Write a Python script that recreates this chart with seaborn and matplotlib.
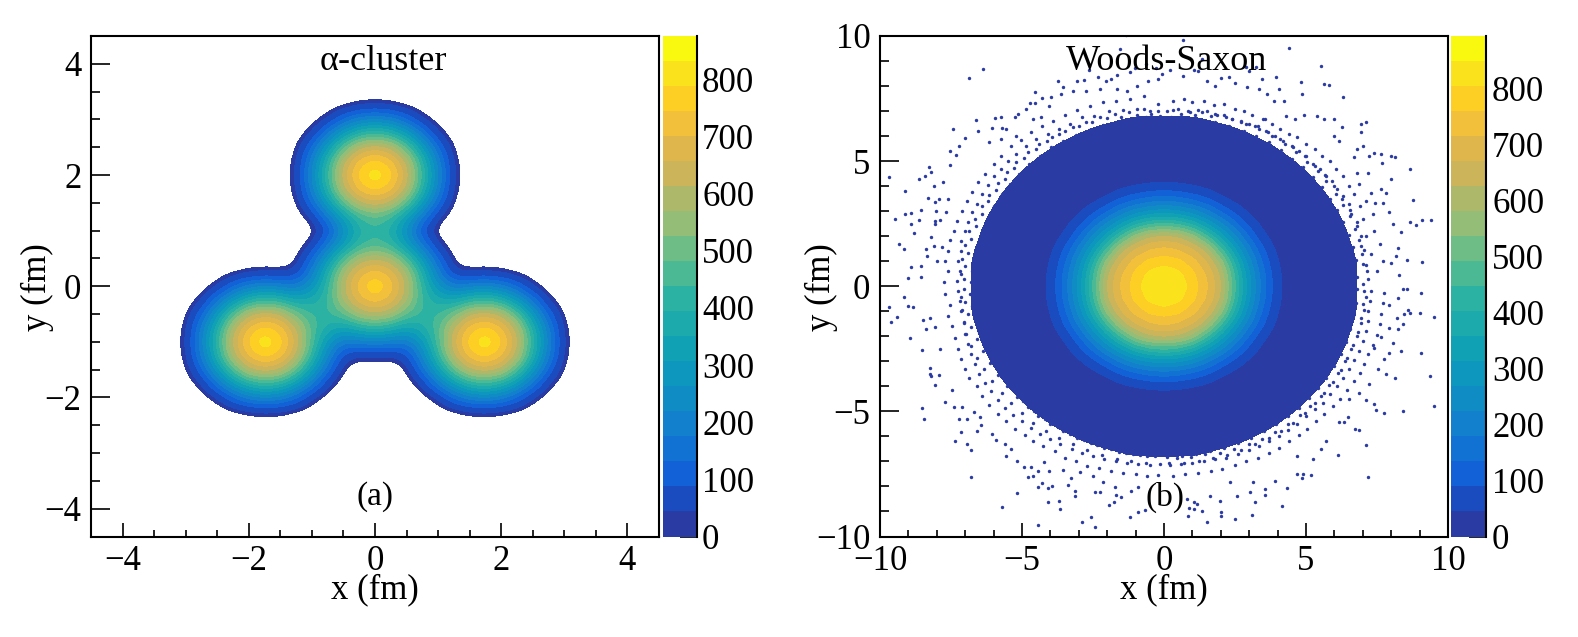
import numpy as np
import pandas as pd
import matplotlib
matplotlib.use("Agg")
import matplotlib.pyplot as plt
from matplotlib.cm import ScalarMappable
from matplotlib.colors import BoundaryNorm, ListedColormap
import seaborn as sns
from seaborn._statistics import KDE

# Colour bands of the palette, bottom to top of the colour bar
BAND_COLORS = ["#2A3BA3", "#1A4CC0", "#1361D6", "#1272D4", "#1280CC",
               "#0F8CC4", "#0D97BE", "#10A2B4", "#1DAAAC", "#2BB2A2",
               "#4CB995", "#6EBD87", "#94BE78", "#ADB86A", "#CBB45A",
               "#DEB64C", "#F2C03A", "#FDCF24", "#FAE31C", "#F8F90F"]
CBAR_TICKS = [0, 100, 200, 300, 400, 500, 600, 700, 800]
ALPHA_ZMAX = 876
WS_ZMAX = 893

# alpha-cluster panel: counts read at 0.25 fm steps, x >= 0 side (the picture is mirror symmetric)
ALPHA_STEP = 0.25
ALPHA_X = [0, .25, .5, .75, 1, 1.25, 1.5, 1.75, 2, 2.25, 2.5, 2.75, 3, 3.25]
ALPHA_Y = [3.5, 3.25, 3, 2.75, 2.5, 2.25, 2, 1.75, 1.5, 1.25, 1, .75, .5, .25, 0,
           -.25, -.5, -.75, -1, -1.25, -1.5, -1.75, -2, -2.25, -2.5]
ALPHA_COUNTS = [
    [0, 0, 0, 0, 0, 0, 0, 0, 0, 0, 0, 0, 0, 0],
    [30, 22, 4, 0, 0, 0, 0, 0, 0, 0, 0, 0, 0, 0],
    [220, 196, 126, 26, 0, 0, 0, 0, 0, 0, 0, 0, 0, 0],
    [440, 400, 300, 172, 26, 0, 0, 0, 0, 0, 0, 0, 0, 0],
    [650, 620, 483, 300, 126, 4, 0, 0, 0, 0, 0, 0, 0, 0],
    [770, 723, 620, 400, 196, 18, 0, 0, 0, 0, 0, 0, 0, 0],
    [860, 770, 650, 440, 220, 26, 0, 0, 0, 0, 0, 0, 0, 0],
    [770, 723, 620, 400, 196, 18, 0, 0, 0, 0, 0, 0, 0, 0],
    [650, 620, 483, 300, 126, 4, 0, 0, 0, 0, 0, 0, 0, 0],
    [480, 432, 310, 172, 26, 0, 0, 0, 0, 0, 0, 0, 0, 0],
    [429, 382, 246, 60, 0, 0, 0, 0, 0, 0, 0, 0, 0, 0],
    [460, 414, 296, 163, 26, 0, 0, 0, 0, 0, 0, 0, 0, 0],
    [618, 589, 459, 285, 120, 4, 0, 0, 0, 0, 0, 0, 0, 0],
    [732, 687, 589, 380, 186, 30, 20, 26, 18, 3, 0, 0, 0, 0],
    [820, 732, 618, 418, 255, 173, 200, 220, 190, 118, 22, 0, 0, 0],
    [732, 687, 589, 428, 368, 342, 405, 440, 392, 290, 160, 20, 0, 0],
    [618, 589, 474, 425, 432, 505, 625, 650, 616, 470, 285, 110, 2, 0],
    [418, 380, 325, 375, 460, 620, 730, 770, 715, 610, 381, 180, 14, 0],
    [209, 186, 166, 276, 460, 660, 778, 860, 762, 640, 420, 204, 20, 0],
    [30, 22, 50, 212, 420, 620, 730, 770, 715, 610, 381, 180, 14, 0],
    [0, 0, 6, 140, 312, 495, 625, 650, 616, 470, 285, 110, 2, 0],
    [0, 0, 0, 30, 182, 310, 405, 440, 392, 290, 160, 20, 0, 0],
    [0, 0, 0, 0, 26, 133, 200, 220, 190, 118, 22, 0, 0, 0],
    [0, 0, 0, 0, 0, 4, 20, 26, 18, 3, 0, 0, 0, 0],
    [0, 0, 0, 0, 0, 0, 0, 0, 0, 0, 0, 0, 0, 0],
]

# Woods-Saxon panel: counts read at 0.5 fm steps, one quadrant (x >= 0, y >= 0)
WS_STEP = 0.5
WS_X = [0, .5, 1, 1.5, 2, 2.5, 3, 3.5, 4, 4.5, 5, 5.5, 6, 6.5, 7, 7.5]
WS_Y = [0, .5, 1, 1.5, 2, 2.5, 3, 3.5, 4, 4.5, 5, 5.5, 6, 6.5, 7, 7.5]
WS_COUNTS = [
    [860, 840, 790, 725, 650, 450, 280, 150, 50, 18, 10, 6, 4, 2, .5, 0],
    [840, 820, 775, 712, 633, 433, 270, 142, 46, 18, 10, 6, 4, 2, .5, 0],
    [790, 775, 735, 680, 575, 385, 238, 116, 38, 16, 9, 6, 4, 2, .4, 0],
    [725, 712, 680, 617, 450, 306, 189, 88, 28, 14, 8, 5, 3, 1.5, .3, 0],
    [650, 633, 575, 450, 335, 228, 122, 46, 19, 11, 7, 5, 3, 1, 0, 0],
    [450, 433, 385, 306, 228, 142, 70, 26, 14, 9, 6, 4, 2, .6, 0, 0],
    [280, 270, 238, 189, 122, 70, 30, 16, 10, 7, 5, 3, 1.3, .3, 0, 0],
    [150, 142, 116, 88, 46, 26, 16, 11, 8, 5, 3.6, 2, .6, 0, 0, 0],
    [50, 46, 38, 28, 19, 14, 10, 8, 5, 4, 2.4, 1, .2, 0, 0, 0],
    [18, 18, 16, 14, 11, 9, 7, 5, 4, 2.6, 1.2, .3, 0, 0, 0, 0],
    [10, 10, 9, 8, 7, 6, 5, 3.6, 2.4, 1.2, .4, 0, 0, 0, 0, 0],
    [6, 6, 6, 5, 5, 4, 3, 2, 1, .3, 0, 0, 0, 0, 0, 0],
    [4, 4, 4, 3, 3, 2, 1.3, .6, .2, 0, 0, 0, 0, 0, 0, 0],
    [2, 2, 2, 1.5, 1, .6, .3, 0, 0, 0, 0, 0, 0, 0, 0, 0],
    [.5, .5, .4, .3, 0, 0, 0, 0, 0, 0, 0, 0, 0, 0, 0, 0],
    [0, 0, 0, 0, 0, 0, 0, 0, 0, 0, 0, 0, 0, 0, 0, 0],
]

# Single stray events outside the solid disc of the Woods-Saxon panel
STRAY_POINTS = [
    (-6.12, 8.59), (-6.6, 8.22), (-7.19, 6.18), (-6.38, 6.56), (-9.42, 4.25), (-8.88, 3.69), (-9.21, 2.57),
    (-9.07, 1.57), (-8.9, 1.37), (-8.77, .23), (-8.37, 4.2), (-8.03, 4.67), (-8.15, 4.3), (-7.97, 4.45),
    (-7.27, 5.29), (-7.09, 5.14), (-6.97, 5.52), (-6.76, 5.82), (-7.3, 4.74), (-7.54, 4.07), (-7.86, 3.9),
    (-8.05, 3.44), (-7.83, 3.27), (-7.68, 3.4), (-7.35, 3.4), (-8.3, 2.94), (-8.65, 2.82), (-8.86, 2.77),
    (-8.66, 2.4), (-8.37, 2.53), (-8.56, 2.04), (-7.77, 2.89), (-7.41, 2.88), (-7.8, 2.5), (-7.62, 2.54),
    (-7.8, 2.37), (-7.97, 1.86), (-8.13, 1.37), (-8.66, .66), (-8.29, .72), (-8.09, 1.09), (-7.85, 1.5),
    (-7.55, 1.47), (-7.74, .9), (-8.29, .27), (-5.7, 6.61), (-5.5, 6.65), (-5.0, 6.65), (-4.9, 6.79),
    (-4.6, 7.0), (-4.28, 7.66), (-4.47, 7.23), (-4.3, 7.23), (-4.05, 7.42), (-3.73, 7.46), (-3.5, 8.09),
    (-3.3, 7.86), (-2.8, 8.1), (-2.55, 8.13), (-2.38, 8.56), (-2.08, 8.26), (-1.8, 8.09), (-1.6, 8.2),
    (-1.4, 8.33), (-.96, 8.46), (-.78, 8.62), (-1.3, 9.4), (-1.08, 9.93), (-.4, 8.8), (-.03, 8.62),
    (-.3, 8.09), (-.7, 7.9), (-1.07, 7.72), (-1.42, 7.79), (-2, 7.79), (-2.5, 7.72), (-2.96, 7.72),
    (-3.37, 7.6), (-3.79, 7.12), (-4.08, 6.65), (-4.38, 6.59), (-4.97, 5.92), (-5.32, 6.18), (-5.44, 6.24),
    (-5.8, 6.24), (-6.29, 6.12), (-5.9, 5.65), (-5.5, 5.78),
    (.91, 9.76), (4.66, 9.44), (5.77, 8.69), (5.89, 7.99), (6.06, 7.95), (6.57, 7.46), (5.06, 8.06),
    (5.12, 7.59), (4.21, 8.26), (3.7, 8.19), (3.15, 8.66), (3.48, 8.66), (3.26, 8.49), (2.53, 8.26),
    (2.27, 8.23), (1.58, 9.0), (1.29, 8.53), (1.43, 8.49), (.93, 8.29), (.46, 8.53), (.17, 8.39),
    (.05, 8.19), (1.76, 8.12), (2.05, 7.92), (2.76, 8.03), (3.17, 7.86), (3.59, 7.79), (3.88, 7.59),
    (4.29, 7.79), (4.47, 7.32), (4.12, 7.32), (3.82, 6.59), (4.53, 6.72), (4.88, 6.59), (5.18, 6.75),
    (5.65, 6.72), (5.89, 6.59), (6.24, 6.59), (6.5, 6.28), (7.18, 6.38), (7.38, 6.45), (7.18, 6.05),
    (7.24, 5.51), (7.06, 5.4), (6.42, 5.71), (6.24, 5.92), (7.66, 5.22), (7.89, 5.18), (8.25, 5.11),
    (8.37, 5.07), (7.92, 4.82), (8.92, 4.6), (8.25, 4.2), (7.42, 4.44), (7.06, 4.44), (7.48, 5.11),
    (6.95, 5.05), (9.0, 3.33), (8.92, 2.46), (9.11, 2.33), (9.35, 2.53), (9.64, 2.53), (8.3, 2.4),
    (8.6, 2.06), (8.5, 1.43), (8.81, .96), (9.35, .86), (8.19, 2.86), (7.95, 3.24), (8.07, 3.64),
    (7.9, 3.77), (7.68, 3.24), (7.54, 3.64), (8.42, 1.1), (8.54, .36), (8.25, .83),
    (-8.92, -.51), (-9.43, -.91), (-8.78, -.88), (-8.6, -.91), (-9.15, -1.31), (-9.37, -1.51), (-8.68, -2.18),
    (-8.25, -1.45), (-8.13, -1.81), (-7.8, -1.71), (-7.98, -1.38), (-8.27, -2.65), (-7.62, -2.61), (-7.98, -3.36),
    (-8, -3.59), (-7.94, -3.69), (-7.66, -3.65), (-7.83, -4.06), (-7.47, -4.73), (-8.27, -4.97), (-8.21, -5.4),
    (-7.21, -4.26), (-7.15, -4.93), (-6.86, -4.93), (-6.97, -5.4), (-6.67, -5.4), (-6.44, -5.13), (-6.23, -5.33),
    (-6.2, -5.64), (-6.32, -5.89), (-6.9, -5.93), (-7.12, -6.3), (-6.67, -6.41), (-6.56, -6.65), (-6.53, -7.72),
    (-5.8, -6.0), (-5.68, -6.23), (-5.35, -6.41), (-5.33, -6.87), (-4.91, -7.07), (-5.12, -6.6), (-4.92, -8.38),
    (-5.44, -8.94), (-4.67, -7.31), (-4.44, -7.34), (-4.55, -7.71), (-4.38, -7.67), (-4.2, -7.47), (-3.97, -7.14),
    (-3.79, -7.47), (-4.18, -8.11), (-4.03, -7.98), (-3.85, -8.17), (-3.7, -8.07), (-3.82, -8.74), (-3.46, -8.67),
    (-3.41, -9.01), (-4.2, -9.64), (-3.14, -8.05), (-3.32, -7.43), (-3.02, -7.78), (-2.9, -8.5), (-2.9, -8.27),
    (-2.64, -9.54), (-2.31, -9.32), (-2.17, -9.74), (-2.17, -8.34), (-2.0, -8.31), (-1.7, -8.84), (-1.51, -8.74),
    (-1.43, -8.45), (-1.25, -8.54), (-.9, -8.27), (-.66, -8.14), (-.93, -9.34), (-.66, -9.14), (-.43, -9.04),
    (-1.9, -7.94), (-1.48, -8.14), (-2.25, -7.67), (-2.72, -7.54),
    (1.78, -9.52), (1.11, -9.3), (2.25, -9.14), (2.25, -9.28), (2.74, -9.41), (3.35, -9.25), (1.58, -9.08),
    (1.14, -8.98), (1.31, -9.01), (1.4, -8.81), (1.29, -8.71), (1.07, -8.6), (1.88, -8.47), (2.21, -8.67),
    (2.82, -8.5), (3.45, -8.74), (4.39, -8.88), (3.82, -8.2), (3.82, -8.43), (4.59, -8.18), (3.29, -8.31),
    (7.42, -7.71), (4.94, -7.6), (5.15, -7.6), (5.12, -7.78), (5.42, -7.64), (4.15, -7.87), (3.39, -7.94),
    (2.58, -7.94), (5.5, -7.0), (6.36, -6.84), (7.36, -6.44), (7.13, -5.86), (6.97, -5.82), (4.94, -6.87),
    (5.77, -6.6), (5.95, -6.27), (6.74, -5.33), (6.6, -5.53), (8.01, -5.17), (8.66, -5.1), (9.76, -4.9),
    (9.62, -3.69), (8.4, -3.76), (8.07, -3.62), (7.72, -5.06), (7.36, -4.66), (7.66, -4.79), (9.29, -2.76),
    (8.58, -2.69), (8.19, -2.76), (8.01, -3.01), (7.78, -3.41), (8.31, -2.38), (8.48, -1.81), (8.66, -1.62),
    (9.25, -1.15), (9.75, -1.34), (9.3, -.37), (8.81, -.21), (8.66, -.2), (8.9, -1.18), (8.69, -1.22),
    (8.45, -1.35), (8.19, -1.78), (8.84, -1.04), (8.48, -.55), (8.19, -.84), (7.89, -2.12), (7.66, -2.58),
    (7.48, -3.99), (7.13, -4.36), (6.77, -4.59), (6.42, -5.53),
]
# the stray points above were read with a slightly different origin
STRAY_DX = -0.25
STRAY_DY = 0.1

# Fuzzy rim just outside the solid disc
RIM_POINTS = [
    (7.2, .3), (7.5, .6), (7.0, .9), (7.7, 1.0), (7.3, 1.3), (6.95, 1.6), (7.6, 1.7), (7.1, 2.0), (7.4, 2.2),
    (6.8, 2.4), (7.0, 2.7), (7.35, 2.9), (6.6, 2.9), (6.9, 3.2), (6.5, 3.3), (7.1, 3.4), (6.3, 3.6), (6.7, 3.7),
    (6.1, 3.9), (6.5, 4.0), (6.85, 4.1), (5.9, 4.2), (6.3, 4.4), (5.7, 4.4), (6.05, 4.7), (5.5, 4.7), (5.85, 5.0),
    (5.25, 4.9), (5.55, 5.2), (5.0, 5.2), (5.3, 5.5), (4.75, 5.4), (5.0, 5.7), (4.5, 5.6), (4.7, 5.95), (4.2, 5.8),
    (4.4, 6.1), (3.9, 6.0), (4.1, 6.3), (3.6, 6.2), (3.8, 6.5), (3.3, 6.4), (3.5, 6.7), (3.0, 6.5), (3.1, 6.85),
    (2.7, 6.6), (2.8, 7.0), (2.4, 6.7), (2.5, 7.1), (2.1, 6.85), (2.1, 7.3), (1.8, 6.9), (1.75, 7.25), (1.5, 7.0),
    (1.4, 7.4), (1.2, 7.05), (1.0, 7.35), (.9, 6.95), (.7, 7.5), (.5, 7.1), (.3, 7.4), (.1, 7.0),
    (-.2, 7.3), (-.5, 7.0), (-.7, 7.6), (-.95, 7.1), (-1.2, 7.5), (-1.45, 7.05), (-1.7, 7.4), (-1.95, 7.0),
    (-2.15, 7.35), (-2.45, 6.8), (-2.6, 7.2), (-2.9, 6.75), (-3.05, 7.05), (-3.3, 6.5), (-3.5, 6.85), (-3.7, 6.3),
    (-3.9, 6.6), (-4.1, 6.1), (-4.3, 6.4), (-4.5, 5.9), (-4.7, 6.15), (-4.85, 5.6), (-5.05, 5.85), (-5.2, 5.3),
    (-5.4, 5.6), (-5.5, 5.0), (-5.75, 5.2), (-5.75, 4.7), (-6.0, 4.9), (-6.0, 4.4), (-6.3, 4.5), (-6.2, 4.05),
    (-6.55, 4.15), (-6.4, 3.7), (-6.75, 3.75), (-6.6, 3.3), (-6.95, 3.4), (-6.75, 2.95), (-7.1, 3.0), (-6.9, 2.55),
    (-7.3, 2.6), (-7.0, 2.2), (-7.4, 2.2), (-7.15, 1.8), (-7.55, 1.85), (-7.15, 1.4), (-7.6, 1.4), (-7.25, 1.0),
    (-7.7, 1.0), (-7.2, .6), (-7.6, .6), (-7.3, .2), (-7.75, .15),
    (-7.25, -.2), (-7.7, -.3), (-7.2, -.6), (-7.55, -.75), (-7.15, -1.0), (-7.6, -1.2), (-7.05, -1.45), (-7.45, -1.6),
    (-7.0, -1.9), (-7.35, -2.05), (-6.9, -2.3), (-7.25, -2.5), (-6.8, -2.7), (-7.15, -2.9), (-6.65, -3.1), (-7.0, -3.3),
    (-6.5, -3.5), (-6.85, -3.65), (-6.3, -3.85), (-6.6, -4.0), (-6.1, -4.2), (-6.4, -4.4), (-5.85, -4.55), (-6.15, -4.75),
    (-5.6, -4.85), (-5.85, -5.1), (-5.3, -5.15), (-5.55, -5.4), (-5.0, -5.4), (-5.25, -5.7), (-4.7, -5.65), (-4.9, -5.95),
    (-4.35, -5.9), (-4.6, -6.2), (-4.0, -6.1), (-4.25, -6.4), (-3.65, -6.3), (-3.85, -6.6), (-3.25, -6.5), (-3.5, -6.85),
    (-2.9, -6.65), (-3.1, -7.0), (-2.5, -6.8), (-2.7, -7.2), (-2.1, -6.9), (-2.3, -7.25), (-1.7, -7.0), (-1.85, -7.4),
    (-1.3, -7.05), (-1.45, -7.45), (-.9, -7.1), (-1.0, -7.5), (-.5, -7.15), (-.6, -7.6), (-.15, -7.1), (-.2, -7.55),
    (.2, -7.15), (.3, -7.6), (.6, -7.1), (.75, -7.5), (1.0, -7.05), (1.2, -7.45), (1.4, -7.0), (1.65, -7.4),
    (1.8, -6.9), (2.05, -7.3), (2.2, -6.85), (2.5, -7.15), (2.6, -6.7), (2.9, -7.0), (3.0, -6.55), (3.3, -6.85),
    (3.35, -6.4), (3.7, -6.65), (3.7, -6.2), (4.05, -6.45), (4.05, -6.0), (4.4, -6.2), (4.35, -5.75), (4.75, -5.95),
    (4.7, -5.5), (5.05, -5.7), (5.0, -5.2), (5.35, -5.4), (5.3, -4.9), (5.65, -5.1), (5.6, -4.65), (5.95, -4.8),
    (5.85, -4.3), (6.2, -4.5), (6.1, -4.0), (6.45, -4.15), (6.3, -3.65), (6.7, -3.8), (6.5, -3.3), (6.9, -3.45),
    (6.7, -2.95), (7.05, -3.1), (6.85, -2.6), (7.2, -2.7), (7.0, -2.2), (7.35, -2.35), (7.1, -1.8), (7.5, -1.95),
    (7.2, -1.4), (7.6, -1.5), (7.2, -1.0), (7.65, -1.1), (7.25, -.6), (7.7, -.65), (7.3, -.2), (7.75, -.25),
    # denser part of the rim, hugging the edge of the disc
    (6.8, .35), (7.0, .1), (7.15, .6), (6.75, 1.05), (6.98, 1.3), (7.12, .85), (6.65, 1.55), (6.85, 1.85), (7.05, 1.45),
    (6.5, 2.05), (6.72, 2.3), (6.95, 2.0), (6.3, 2.55), (6.55, 2.8), (6.78, 2.55), (6.08, 3.05), (6.3, 3.25), (6.55, 3.05),
    (5.85, 3.5), (6.05, 3.7), (6.25, 3.5), (5.55, 3.95), (5.72, 4.2), (6.0, 4.0), (5.25, 4.35), (5.42, 4.6), (5.68, 4.45),
    (4.9, 4.75), (5.05, 4.95), (5.32, 4.8), (4.52, 5.1), (4.65, 5.35), (4.95, 5.2), (4.12, 5.45), (4.25, 5.7), (4.55, 5.55),
    (3.7, 5.75), (3.8, 6.0), (4.1, 5.9), (3.25, 6.0), (3.33, 6.3), (3.65, 6.15), (2.8, 6.2), (2.88, 6.5), (3.2, 6.4),
    (2.3, 6.4), (2.38, 6.7), (2.7, 6.55), (1.8, 6.55), (1.85, 6.85), (2.2, 6.75), (1.3, 6.65), (1.35, 6.95), (1.65, 6.8),
    (.8, 6.72), (.85, 7.0), (1.1, 6.85), (.25, 6.78), (.3, 7.05), (.6, 6.9),
    (-.15, 6.8), (-.2, 7.02), (-.45, 6.88), (-.65, 6.75), (-.72, 7.08), (-.95, 6.85), (-1.15, 6.7), (-1.22, 6.98), (-1.5, 6.78),
    (-1.65, 6.58), (-1.72, 6.9), (-2.0, 6.72), (-2.15, 6.45), (-2.25, 6.78), (-2.55, 6.55), (-2.65, 6.25), (-2.75, 6.55), (-3.0, 6.42),
    (-3.1, 6.05), (-3.22, 6.35), (-3.5, 6.2), (-3.55, 5.82), (-3.68, 6.1), (-3.95, 5.98), (-3.98, 5.55), (-4.12, 5.82), (-4.4, 5.68),
    (-4.38, 5.22), (-4.5, 5.5), (-4.8, 5.35), (-4.75, 4.88), (-4.92, 5.12), (-5.2, 4.98), (-5.1, 4.5), (-5.28, 4.72), (-5.52, 4.55),
    (-5.42, 4.1), (-5.6, 4.3), (-5.85, 4.12), (-5.72, 3.68), (-5.9, 3.85), (-6.15, 3.65), (-5.98, 3.2), (-6.18, 3.4), (-6.42, 3.2),
    (-6.2, 2.72), (-6.42, 2.9), (-6.65, 2.7), (-6.38, 2.22), (-6.62, 2.4), (-6.85, 2.2), (-6.55, 1.7), (-6.78, 1.88), (-7.02, 1.65),
    (-6.65, 1.18), (-6.9, 1.32), (-7.1, 1.1), (-6.75, .62), (-7.0, .82), (-7.15, .5), (-6.8, .15), (-7.05, .3),
    (-6.82, -.3), (-7.05, -.12), (-7.15, -.42), (-6.75, -.8), (-7.0, -.62), (-7.12, -.95), (-6.65, -1.3), (-6.9, -1.12), (-7.05, -1.42),
    (-6.52, -1.82), (-6.78, -1.62), (-6.98, -1.9), (-6.35, -2.32), (-6.6, -2.12), (-6.8, -2.4), (-6.12, -2.82), (-6.38, -2.6), (-6.6, -2.85),
    (-5.88, -3.3), (-6.12, -3.08), (-6.35, -3.32), (-5.6, -3.75), (-5.85, -3.55), (-6.05, -3.8), (-5.28, -4.18), (-5.52, -4.0), (-5.72, -4.25),
    (-4.95, -4.6), (-5.18, -4.42), (-5.38, -4.68), (-4.58, -4.98), (-4.8, -4.82), (-5.0, -5.08), (-4.18, -5.32), (-4.42, -5.18), (-4.6, -5.45),
    (-3.75, -5.62), (-4.0, -5.5), (-4.15, -5.78), (-3.3, -5.9), (-3.55, -5.8), (-3.68, -6.08), (-2.82, -6.15), (-3.08, -6.05), (-3.2, -6.32),
    (-2.35, -6.35), (-2.58, -6.28), (-2.7, -6.55), (-1.85, -6.52), (-2.1, -6.48), (-2.2, -6.75), (-1.35, -6.65), (-1.6, -6.62), (-1.65, -6.9),
    (-.85, -6.75), (-1.1, -6.72), (-1.15, -7.0), (-.32, -6.8), (-.6, -6.8), (-.62, -7.05),
    (.12, -6.82), (.18, -7.05), (.45, -6.85), (.62, -6.78), (.7, -7.05), (.95, -6.82), (1.12, -6.7), (1.22, -6.98), (1.45, -6.72),
    (1.62, -6.6), (1.72, -6.88), (1.98, -6.65), (2.12, -6.45), (2.22, -6.75), (2.48, -6.5), (2.6, -6.28), (2.72, -6.55), (2.98, -6.32),
    (3.08, -6.05), (3.2, -6.32), (3.45, -6.1), (3.52, -5.8), (3.68, -6.05), (3.92, -5.82), (3.95, -5.52), (4.12, -5.78), (4.35, -5.5),
    (4.38, -5.2), (4.55, -5.45), (4.78, -5.15), (4.75, -4.85), (4.95, -5.08), (5.15, -4.78), (5.1, -4.48), (5.32, -4.68), (5.52, -4.38),
    (5.42, -4.08), (5.65, -4.28), (5.82, -3.95), (5.72, -3.65), (5.95, -3.82), (6.12, -3.48), (5.98, -3.2), (6.22, -3.35), (6.38, -3.0),
    (6.22, -2.72), (6.45, -2.85), (6.6, -2.5), (6.4, -2.22), (6.65, -2.35), (6.8, -2.0), (6.55, -1.72), (6.82, -1.82), (6.95, -1.48),
    (6.65, -1.2), (6.92, -1.28), (7.05, -.95), (6.75, -.65), (7.0, -.72), (7.12, -.42), (6.8, -.12), (7.05, -.18),
]

W, H = 1578, 637
FONT = "Liberation Serif"


def box(x0, y0, x1, y1):
    # pixel box of the reference -> figure fractions
    return [x0 / W, 1 - y1 / H, (x1 - x0) / W, (y1 - y0) / H]


def cells_to_frame(xs, ys, counts):
    xx, yy = np.meshgrid(xs, ys)
    df = pd.DataFrame({"x": xx.ravel(), "y": yy.ravel(), "n": np.asarray(counts, float).ravel()})
    return df[df["n"] > 0]


def draw_density(ax, df, step, zmax, lowest, bw, gridsize):
    # kdeplot takes levels as mass fractions, so turn the count edges of the bands into fractions
    kde_kws = dict(bw_method=bw, gridsize=gridsize, cut=3)
    density, _ = KDE(**kde_kws)(df["x"], df["y"], weights=df["n"])
    to_counts = df["n"].sum() * step ** 2
    ordered = np.sort(density.ravel())[::-1]
    mass = np.cumsum(ordered) / ordered.sum()
    width = zmax / len(BAND_COLORS)
    edges = [lowest] + [width * k for k in range(1, len(BAND_COLORS))]
    edges = [e / to_counts for e in edges if e / to_counts < ordered[0]]
    props = [1 - mass[np.searchsorted(-ordered, -e)] for e in edges] + [1.0]
    colors = BAND_COLORS[:len(edges)]
    norm = BoundaryNorm(edges + [ordered[0] * 1.01], len(colors))
    sns.kdeplot(data=df, x="x", y="y", weights="n", fill=True, levels=props,
                cmap=ListedColormap(colors), norm=norm, ax=ax, **kde_kws)


def style_axes(ax, lim, major, minor):
    ax.set_xlim(-lim, lim)
    ax.set_ylim(-lim, lim)
    ax.set_xticks(major)
    ax.set_yticks(major)
    ax.set_xticks(minor, minor=True)
    ax.set_yticks(minor, minor=True)
    ax.tick_params(axis="x", which="major", direction="in", length=10, width=1.2, labelsize=25, pad=6)
    ax.tick_params(axis="x", which="minor", direction="in", length=5, width=1.2)
    ax.tick_params(axis="y", which="major", direction="in", length=13.5, width=1.2, labelsize=25, pad=7)
    ax.tick_params(axis="y", which="minor", direction="in", length=6.5, width=1.2)
    ax.set_xlabel("")
    ax.set_ylabel("")
    for side in ax.spines.values():
        side.set_visible(True)
        side.set_linewidth(1.5)


def draw_cbar(fig, rect, zmax):
    cax = fig.add_axes(rect)
    edges = np.linspace(0, zmax, len(BAND_COLORS) + 1)
    mappable = ScalarMappable(norm=BoundaryNorm(edges, len(BAND_COLORS)), cmap=ListedColormap(BAND_COLORS))
    cb = fig.colorbar(mappable, cax=cax, spacing="proportional", ticks=CBAR_TICKS, drawedges=False)
    cb.minorticks_off()
    cb.outline.set_visible(False)
    cax.spines["right"].set_visible(True)
    cax.spines["right"].set_linewidth(1.5)
    cax.yaxis.set_ticks_position("right")
    cax.tick_params(axis="y", direction="in", length=12.5, width=1.2, labelsize=25, pad=4)
    cax.set_yticklabels([str(t) for t in CBAR_TICKS])


sns.set_theme(style="ticks", font=FONT)
plt.rcParams["font.family"] = [FONT, "DejaVu Sans"]
plt.rcParams["axes.edgecolor"] = "black"
plt.rcParams["text.color"] = "black"
plt.rcParams["xtick.color"] = "black"
plt.rcParams["ytick.color"] = "black"
plt.rcParams["xtick.labelcolor"] = "black"
plt.rcParams["ytick.labelcolor"] = "black"

fig = plt.figure(figsize=(W / 100, H / 100), dpi=100)
ax_a = fig.add_axes(box(91, 36, 659, 536.5))
ax_b = fig.add_axes(box(880, 36, 1448, 536.5))

# (a) alpha cluster
half = np.asarray(ALPHA_COUNTS, float)
full = np.hstack([half[:, :0:-1], half])
alpha_x = [-v for v in ALPHA_X[:0:-1]] + ALPHA_X
draw_density(ax_a, cells_to_frame(alpha_x, ALPHA_Y, full), ALPHA_STEP, ALPHA_ZMAX, 25, 0.12, 320)
style_axes(ax_a, 4.5, [-4, -2, 0, 2, 4], np.arange(-4.5, 4.6, 0.5))

# (b) Woods-Saxon
quad = np.asarray(WS_COUNTS, float)
right = np.hstack([quad[:, :0:-1], quad])
full = np.vstack([right[:0:-1], right])
ws_x = [-v for v in WS_X[:0:-1]] + WS_X
ws_y = [-v for v in WS_Y[:0:-1]] + WS_Y
draw_density(ax_b, cells_to_frame(ws_x, ws_y, full), WS_STEP, WS_ZMAX, 1.2, 0.18, 360)

stray = np.array(STRAY_POINTS)
rim = np.array(RIM_POINTS)
dots = pd.DataFrame({
    "x": np.r_[stray[:, 0] + STRAY_DX, rim[:, 0]],
    "y": np.r_[stray[:, 1] + STRAY_DY, rim[:, 1]],
})
sns.scatterplot(data=dots, x="x", y="y", s=6, color=BAND_COLORS[0], linewidth=0, ax=ax_b)
style_axes(ax_b, 10, [-10, -5, 0, 5, 10], np.arange(-10, 10.5, 1))

draw_cbar(fig, box(663, 36, 696.5, 536.5), ALPHA_ZMAX)
draw_cbar(fig, box(1451, 36, 1486.5, 536.5), WS_ZMAX)

for x0, y_x, title, tx, note, nx in [
    (375, 37, "α-cluster", 383, "(a)", 375),
    (1164, 821, "Woods-Saxon", 1166, "(b)", 1165),
]:
    fig.text(x0 / W, 1 - 590 / H, "x (fm)", ha="center", va="center", fontsize=25, color="black")
    fig.text(y_x / W, 1 - 287 / H, "y (fm)", ha="center", va="center", rotation=90, fontsize=25, color="black")
    fig.text(tx / W, 1 - 62 / H, title, ha="center", va="center", fontsize=26, color="black")
    fig.text(nx / W, 1 - 497 / H, note, ha="center", va="center", fontsize=24, color="black")

fig.savefig("out.png", dpi=100)
